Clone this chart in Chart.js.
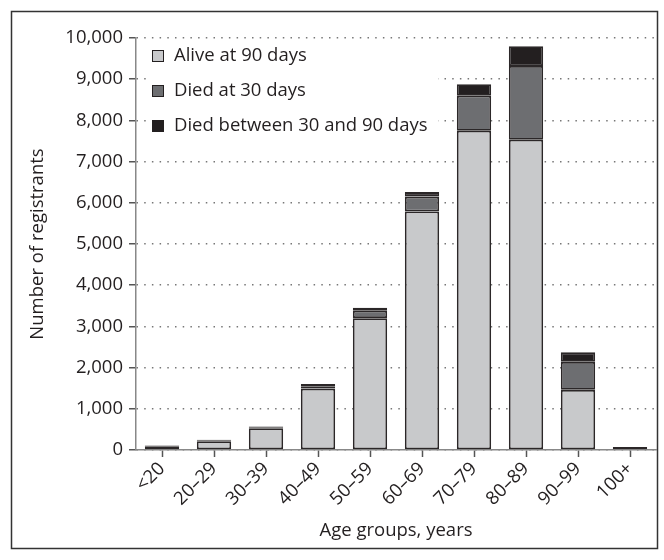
<!DOCTYPE html>
<html>
<head>
<meta charset="utf-8">
<script src="https://cdn.jsdelivr.net/npm/chart.js@4"></script>
<style>
  body { margin: 0; background: #fff; }
</style>
</head>
<body>
<canvas id="ageChart" width="664" height="560"></canvas>
<script>
// Datos del grafico
const categories = ['<20', '20–29', '30–39', '40–49', '50–59', '60–69', '70–79', '80–89', '90–99', '100+'];
const alive90 = [80, 215, 530, 1490, 3200, 5790, 7750, 7530, 1460, 25];
const died30 = [15, 20, 20, 60, 180, 360, 850, 1790, 680, 25];
const diedBetween = [15, 15, 20, 50, 70, 110, 280, 480, 230, 25];
const seriesNames = ['Alive at 90 days', 'Died at 30 days', 'Died between 30 and 90 days'];
const seriesColors = ['#c8c9cb', '#6d6e71', '#231f20'];

const fontFamily = '"Open Sans", "DejaVu Sans", sans-serif';
const fontSize = 18.5;
const textColor = '#231f20';

Chart.defaults.font.family = fontFamily;
Chart.defaults.font.size = fontSize;
Chart.defaults.color = textColor;

// Marco exterior y fondo blanco
const framePlugin = {
    id: 'frame',
    beforeDraw(chart) {
        const ctx = chart.ctx;
        ctx.save();
        ctx.fillStyle = '#fff';
        ctx.fillRect(0, 0, chart.width, chart.height);
        ctx.strokeStyle = '#333';
        ctx.lineWidth = 1.5;
        ctx.strokeRect(11.5, 11.5, 646, 537);
        ctx.restore();
    }
};

// Leyenda dentro del area del grafico, con fondo blanco sobre la rejilla
const legendPlugin = {
    id: 'innerLegend',
    beforeDatasetsDraw(chart) {
        const ctx = chart.ctx;
        ctx.save();
        ctx.fillStyle = '#fff';
        ctx.fillRect(146, 42, 292, 102);
        ctx.font = fontSize + 'px ' + fontFamily;
        ctx.textBaseline = 'middle';
        for (let i = 0; i < seriesNames.length; i++) {
            const y = 56 + i * 35;
            ctx.fillStyle = seriesColors[i];
            ctx.fillRect(152, y - 6, 12, 12);
            ctx.strokeStyle = '#231f20';
            ctx.lineWidth = 1;
            ctx.strokeRect(152.5, y - 5.5, 11, 11);
            ctx.fillStyle = textColor;
            ctx.fillText(seriesNames[i], 174, y);
        }
        ctx.restore();
    }
};

const values = [alive90, died30, diedBetween];
const datasets = values.map((data, i) => ({
    label: seriesNames[i],
    data: data,
    backgroundColor: seriesColors[i],
    borderColor: '#2b2728',
    borderWidth: 1.8,
    borderSkipped: false,
    barPercentage: 0.66,
    categoryPercentage: 1
}));

new Chart(document.getElementById('ageChart'), {
    type: 'bar',
    data: { labels: categories, datasets: datasets },
    plugins: [framePlugin, legendPlugin],
    options: {
        responsive: false,
        animation: false,
        layout: { padding: { left: 12, top: 38, right: 8, bottom: 12 } },
        plugins: {
            legend: { display: false },
            tooltip: { enabled: false }
        },
        scales: {
            x: {
                stacked: true,
                afterFit: (scale) => { scale.height = 98; },
                grid: {
                    offset: false,
                    drawOnChartArea: false,
                    tickLength: 7,
                    tickColor: '#555',
                    tickWidth: 1.5
                },
                border: { color: '#888', width: 1.5 },
                ticks: {
                    minRotation: 45,
                    maxRotation: 45,
                    padding: 1,
                    color: textColor
                },
                title: {
                    display: true,
                    text: 'Age groups, years',
                    color: textColor,
                    padding: { top: 0, bottom: 6 }
                }
            },
            y: {
                stacked: true,
                min: 0,
                max: 10000,
                afterFit: (scale) => { scale.width = 124; },
                grid: {
                    color: '#777',
                    lineWidth: 1.5,
                    tickLength: 7,
                    tickColor: '#555',
                    tickWidth: 1.5,
                    tickBorderDash: []
                },
                border: { color: '#888', width: 1.5, dash: [1.5, 6.2] },
                ticks: {
                    stepSize: 1000,
                    padding: 6,
                    color: textColor
                },
                title: {
                    display: true,
                    text: 'Number of registrants',
                    color: textColor,
                    padding: { top: 15, bottom: 0 }
                }
            }
        }
    }
});
</script>
</body>
</html>
